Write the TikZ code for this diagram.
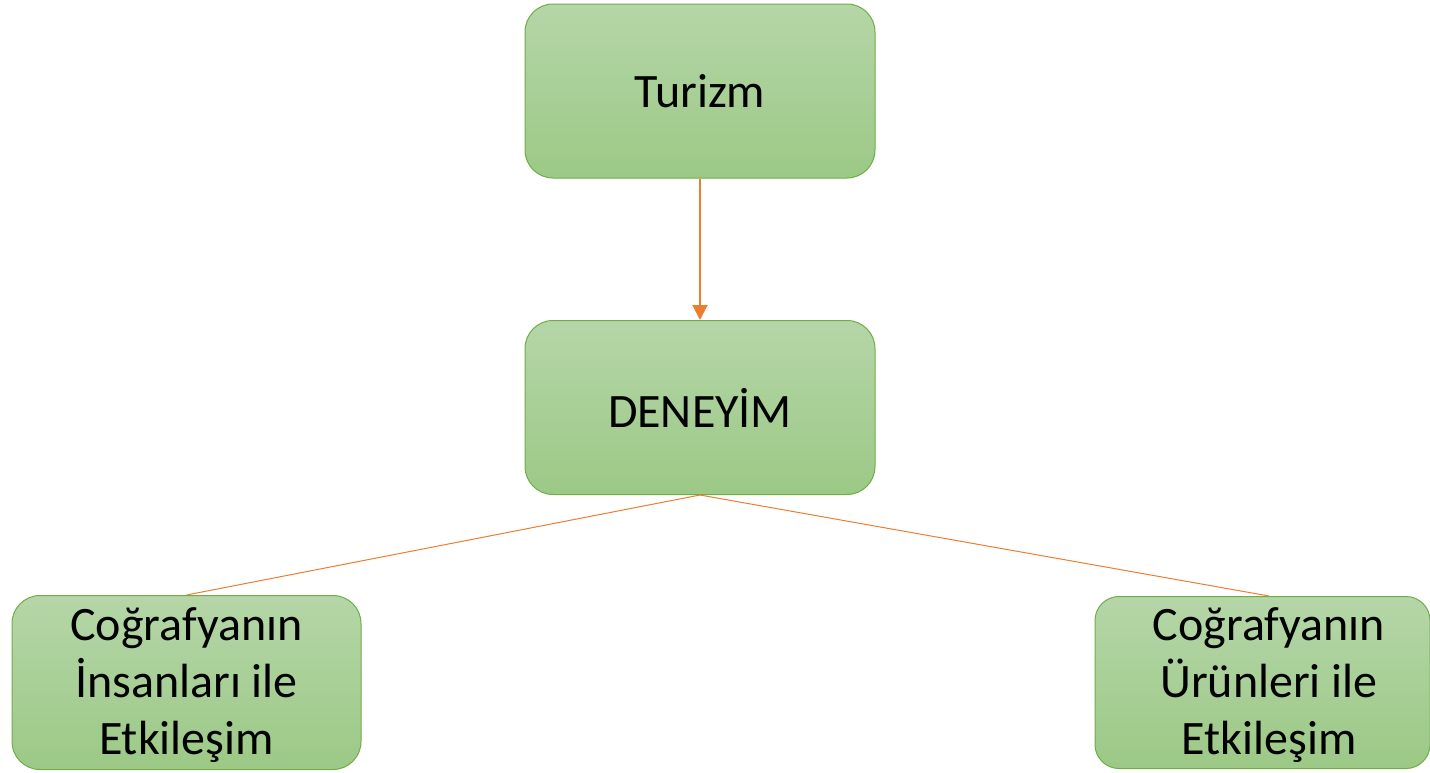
\documentclass[tikz,border=0pt]{standalone}
\usepackage{fontspec}
\setmainfont{Carlito}
\usetikzlibrary{arrows.meta}
\definecolor{boxtop}{HTML}{B5D6A8}
\definecolor{boxbot}{HTML}{9CC986}
\definecolor{boxline}{HTML}{70AD47}
\definecolor{conn}{HTML}{ED7D31}
\tikzset{
  greenbox/.style={draw=boxline, line width=1pt, rounded corners=28pt,
    top color=boxtop, bottom color=boxbot, inner sep=0pt,
    minimum width=350pt, minimum height=174pt, align=center,
    font=\fontsize{48}{57}\selectfont},
  txt/.style={inner sep=0pt, align=center, font=\fontsize{48}{57}\selectfont},
  conline/.style={draw=conn, line width=1pt},
  conarrow/.style={draw=conn, line width=2pt, -{Triangle[length=15pt,width=15pt]}}
}
\begin{document}
\begin{tikzpicture}[x=1pt,y=-1pt]
\useasboundingbox (0,0) rectangle (1430,772);
\node[greenbox] (turizm) at (700,91) {Turizm};
\node[greenbox] (deneyim) at (700,407.5) {DENEYİM};
\node[greenbox, minimum width=349pt] (left) at (186.5,682.5) {};
\node[txt] (ltext) at (186.5,685.5) {Coğrafyanın\\İnsanları ile\\Etkileşim};
\node[greenbox, minimum width=335pt, minimum height=172pt, rounded corners=24pt] (rbox) at (1262.5,682.5) {};
\node[txt] (rtext) at (1269,685.5) {Coğrafyanın\\Ürünleri ile\\Etkileşim};
\draw[conarrow] (turizm.south) -- (deneyim.north);
\draw[conline] (deneyim.south) -- (left.north);
\draw[conline] (deneyim.south) -- (rtext.north |- rbox.north);
\end{tikzpicture}
\end{document}
